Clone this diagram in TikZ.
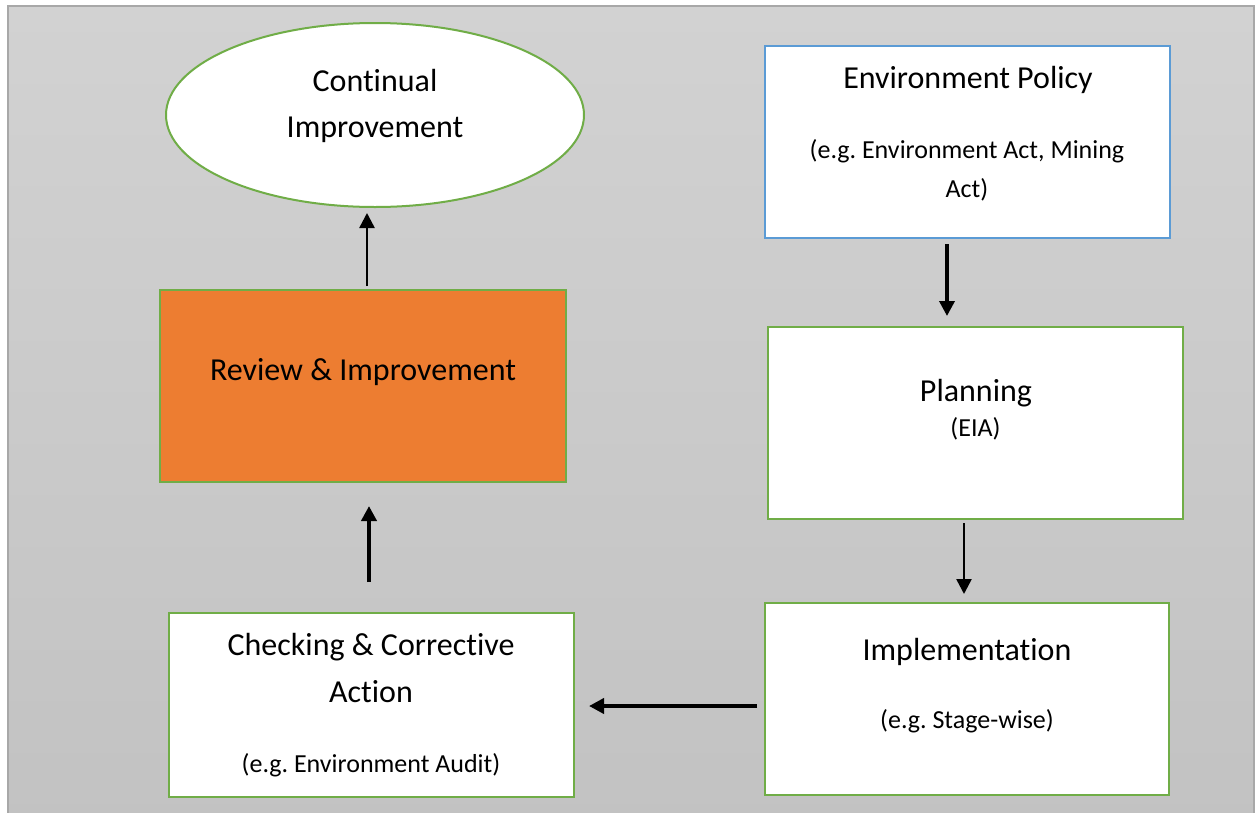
\documentclass[tikz,border=0pt]{standalone}
\usepackage{fontspec}
\setmainfont[Ligatures={NoCommon,NoContextual}]{Carlito}
\usetikzlibrary{arrows.meta,shapes.geometric}
\definecolor{grn}{HTML}{70AD47}
\definecolor{blu}{HTML}{5B9BD5}
\definecolor{org}{HTML}{ED7D31}
\definecolor{bgtop}{HTML}{D2D2D2}
\definecolor{bgbot}{HTML}{C2C2C2}
\definecolor{frm}{HTML}{A8A8A8}
\frenchspacing
\tikzset{
  boxg/.style={draw=grn,line width=2pt,fill=white,rectangle,inner sep=0pt},
  boxb/.style={draw=blu,line width=2pt,fill=white,rectangle,inner sep=0pt},
  big/.style={font=\fontsize{32}{38}\selectfont,anchor=base,inner sep=0pt},
  small/.style={font=\fontsize{26}{32}\selectfont,anchor=base,inner sep=0pt},
  arr/.style={-{Triangle[length=15pt,width=15pt]},black},
}
\begin{document}
\begin{tikzpicture}[x=1pt,y=-1pt]
\useasboundingbox (0,0) rectangle (1256,812);
% background panel
\begin{scope}
\clip (0,0) rectangle (1256,812);
\shade[top color=bgtop,bottom color=bgbot] (8,6) rectangle (1254,830);
\draw[frm,line width=2pt] (8,830) -- (8,6) -- (1254,6) -- (1254,830);
\end{scope}
% nodes
\node[ellipse,draw=grn,line width=2pt,fill=white,minimum width=418pt,minimum height=184pt,inner sep=0pt] (ell) at (375,115) {};
\node[boxb,minimum width=405pt,minimum height=192pt] (pol) at (967.5,142) {};
\node[boxg,minimum width=415pt,minimum height=192pt] (plan) at (975.5,423) {};
\node[boxg,minimum width=404pt,minimum height=192pt] (impl) at (967,699) {};
\node[boxg,minimum width=405pt,minimum height=184pt] (chk) at (371.5,705) {};
\node[boxg,fill=org,minimum width=406pt,minimum height=192pt] (rev) at (363,386) {};
% texts
\node[big] (ellA) at (375,91) {Continual};
\node[big] (ellB) at (375,137) {Improvement};
\node[big] (polA) at (968,88) {Environment Policy};
\node[small] (polB) at (967,158) {(e.g. Environment Act, Mining};
\node[small] (polC) at (967,197) {Act)};
\node[big] (planA) at (976,401.5) {Planning};
\node[small] (planB) at (975.5,436.5) {(EIA)};
\node[big] (implA) at (967,660) {Implementation};
\node[small] (implB) at (967,728) {(e.g. Stage-wise)};
\node[big] (chkA) at (371,655) {Checking \& Corrective};
\node[big] (chkB) at (371,702) {Action};
\node[small] (chkC) at (371,772) {(e.g. Environment Audit)};
\node[big] (revA) at (363,380) {Review \& Improvement};
% connectors
\draw[arr,line width=3.5pt,shorten >=10pt] ([xshift=-20.5pt,yshift=-5pt]pol.south) -- ([xshift=-20.5pt]pol.south |- plan.north);
\draw[arr,line width=2.5pt,shorten >=8pt] ([xshift=-11.5pt,yshift=-3pt]plan.south) -- ([xshift=-11.5pt]plan.south |- impl.north);
\draw[arr,line width=4.5pt,shorten >=14pt] ([xshift=-7pt,yshift=-7pt]impl.west) -- ([yshift=-7pt]impl.west -| chk.east);
\draw[arr,line width=4pt,shorten >=23pt] ([xshift=-2.5pt,yshift=30pt]chk.north) -- ([xshift=-2.5pt]chk.north |- rev.south);
\draw[arr,line width=2.5pt,shorten >=5pt] ([xshift=4pt,yshift=3pt]rev.north) -- ([xshift=4pt]rev.north |- ell.south);
\end{tikzpicture}
\end{document}
